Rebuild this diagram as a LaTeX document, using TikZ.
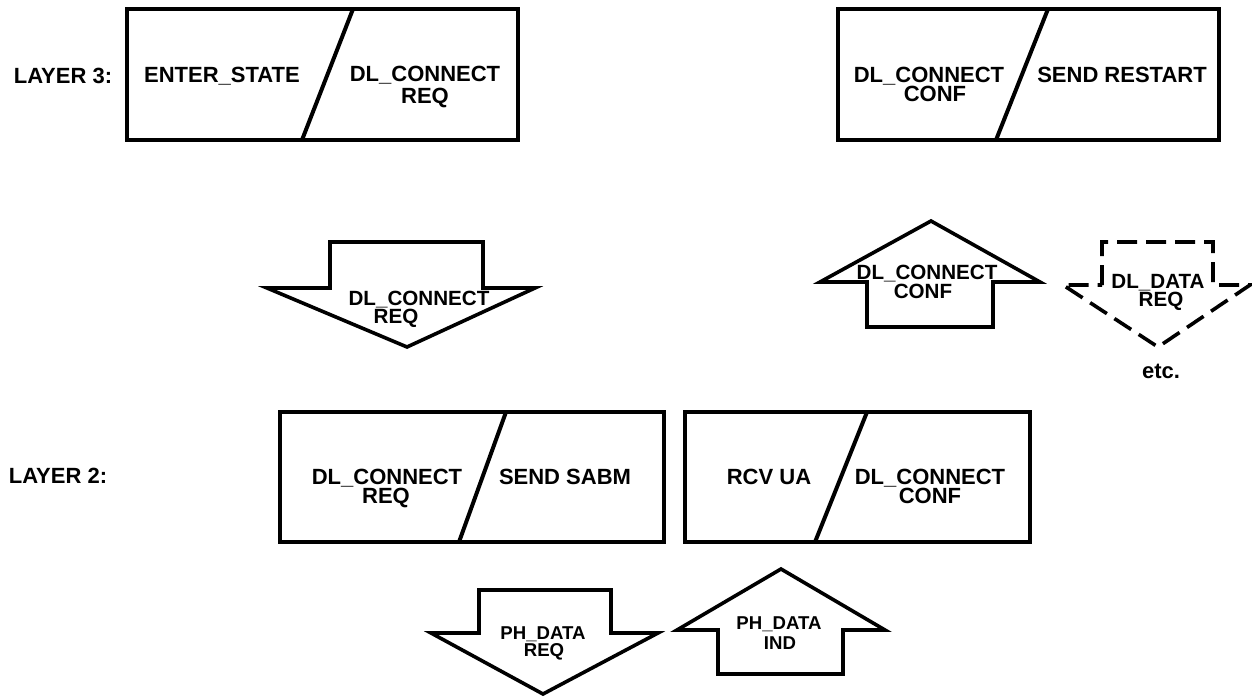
\documentclass[tikz,border=0pt]{standalone}
\usepackage{fontspec}
\setmainfont{Liberation Sans}
\begin{document}
\begin{tikzpicture}[x=0.5pt,y=-0.5pt,
  boxline/.style={line width=2pt,line join=miter},
  arrowline/.style={line width=1.8pt,line join=miter},
  dashline/.style={line width=1.8pt,dash pattern=on 10pt off 4.5pt},
  lbl/.style={anchor=base,inner sep=0pt,font=\bfseries\fontsize{11}{11}\selectfont},
  albl/.style={anchor=base,inner sep=0pt,font=\bfseries\fontsize{10.3}{10.3}\selectfont},
  plbl/.style={anchor=base,inner sep=0pt,font=\bfseries\fontsize{9.3}{9.3}\selectfont}]
\useasboundingbox (0,0) rectangle (1252,696);
% layer labels
\node[lbl] (l3) at (63,83) {LAYER 3:};
\node[lbl] (l2) at (58,483) {LAYER 2:};
% box 1
\draw[boxline] (127,9) rectangle (518,140);
\draw[boxline] (353,9) -- (302,140);
\node[lbl] (b1a) at (222,82) {ENTER\_STATE};
\node[lbl] (b1b) at (425,81) {DL\_CONNECT};
\node[lbl] (b1c) at (425,103) {REQ};
% box 2
\draw[boxline] (838,9) rectangle (1219,140);
\draw[boxline] (1048,9) -- (996,140);
\node[lbl] (b2a) at (929,82) {DL\_CONNECT};
\node[lbl] (b2b) at (935,101) {CONF};
\node[lbl] (b2c) at (1122,82) {SEND RESTART};
% arrow DL_CONNECT REQ (down)
\draw[arrowline] (330,242) -- (483,242) -- (483,288) -- (535,288) -- (407,347) -- (267,288) -- (330,288) -- cycle;
\node[albl] (a1a) at (419,305) {DL\_CONNECT};
\node[albl] (a1b) at (396,323) {REQ};
% arrow DL_CONNECT CONF (up)
\draw[arrowline] (867,327) -- (993,327) -- (993,282) -- (1040,282) -- (931,221) -- (820,282) -- (867,282) -- cycle;
\node[albl] (a2a) at (927,279) {DL\_CONNECT};
\node[albl] (a2b) at (923,298) {CONF};
% dashed arrow DL_DATA REQ (down)
\draw[dashline] (1102,285) -- (1102,242) -- (1213,242) -- (1213,285) -- (1250,285) -- (1158,347) -- (1063,285) -- cycle;
\node[albl] (a3a) at (1158,288) {DL\_DATA};
\node[albl] (a3b) at (1161,306) {REQ};
\node[lbl] (etc) at (1161,378) {etc.};
% box 3
\draw[boxline] (280,412) rectangle (664,542);
\draw[boxline] (506,412) -- (459,542);
\node[lbl] (b3a) at (387,484) {DL\_CONNECT};
\node[lbl] (b3b) at (386,503) {REQ};
\node[lbl] (b3c) at (565,484) {SEND SABM};
% box 4
\draw[boxline] (685,412) rectangle (1030,542);
\draw[boxline] (867,412) -- (815,542);
\node[lbl] (b4a) at (769,484) {RCV UA};
\node[lbl] (b4b) at (930,484) {DL\_CONNECT};
\node[lbl] (b4c) at (930,503) {CONF};
% arrow PH_DATA REQ (down)
\draw[arrowline] (479,590) -- (611,590) -- (611,633) -- (658,633) -- (543,694) -- (431,633) -- (479,633) -- cycle;
\node[plbl] (p1a) at (543,639) {PH\_DATA};
\node[plbl] (p1b) at (544,656) {REQ};
% arrow PH_DATA IND (up)
\draw[arrowline] (718,674) -- (843,674) -- (843,630) -- (885,630) -- (781,569) -- (677,630) -- (718,630) -- cycle;
\node[plbl] (p2a) at (779,629) {PH\_DATA};
\node[plbl] (p2b) at (780,649) {IND};
\end{tikzpicture}
\end{document}
